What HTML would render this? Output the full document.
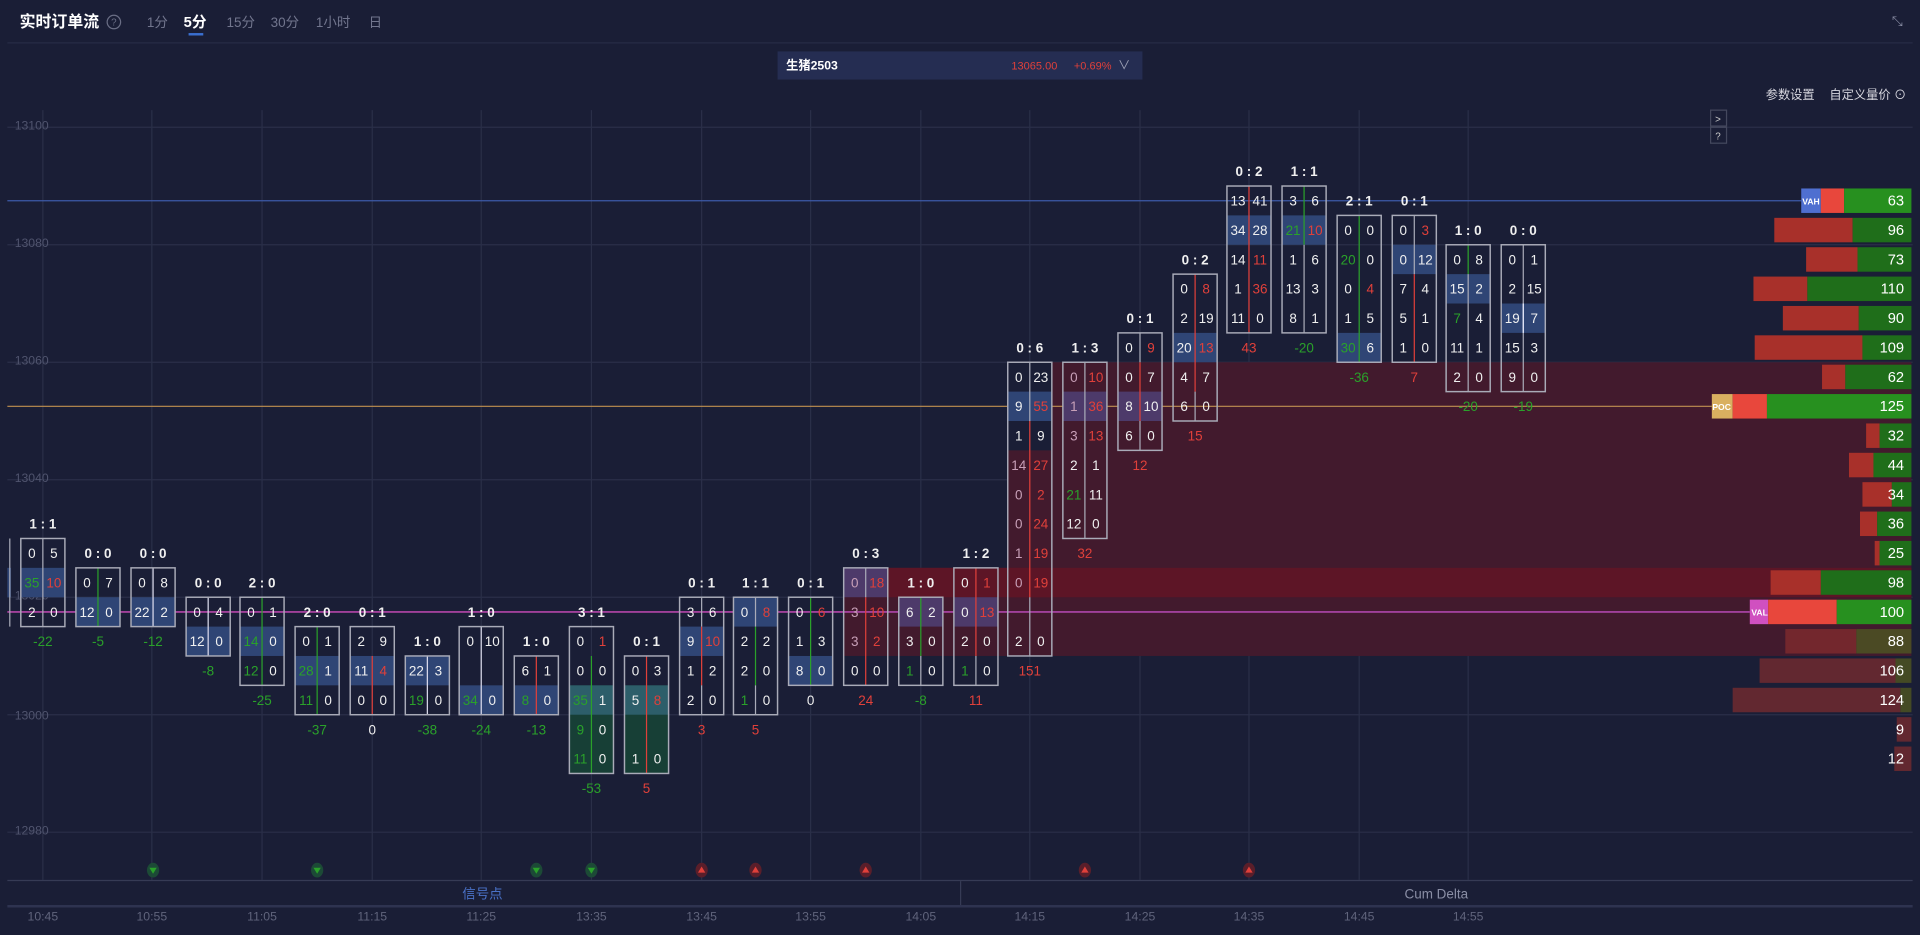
<!DOCTYPE html>
<html><head><meta charset="utf-8"><style>
html,body{margin:0;padding:0;background:#1a1e36;overflow:hidden}
svg{display:block}
text{font-family:"Liberation Sans","Noto Sans CJK SC",sans-serif}
.c text{font-size:11px;text-anchor:middle}
.w{fill:#f0f0f0}.g{fill:#2aa12a}.r{fill:#e0403a}.p{fill:#c8a0b8}
.rt{font-weight:bold;fill:#f0f0f0;font-size:11px}
.bx{fill:none;stroke:#a9abb8;stroke-width:1.2}
.hb{fill:#2f4575}.hp{fill:#4d3a6a}
.vn{font-size:12px;fill:#fff;text-anchor:end}
.ax{font-size:10px;fill:#50546e}
.tm{font-size:10px;fill:#60647c;text-anchor:middle}
</style></head><body>
<svg width="1920" height="935" viewBox="0 0 1568 764" preserveAspectRatio="none" xmlns="http://www.w3.org/2000/svg">
<rect width="1568" height="764" fill="#1a1e36"/>
<!-- header -->
<text x="16" y="22" font-size="13" font-weight="bold" fill="#fff">实时订单流</text>
<circle cx="93" cy="18" r="5.5" fill="none" stroke="#6a6e85"/><text x="93" y="21" font-size="8" fill="#6a6e85" text-anchor="middle">?</text>
<g font-size="11" fill="#72768e"><text x="120" y="22">1分</text><text x="185" y="22">15分</text><text x="221" y="22">30分</text><text x="258" y="22">1小时</text><text x="301" y="22">日</text></g>
<text x="150" y="22" font-size="12" font-weight="bold" fill="#fff">5分</text>
<rect x="154" y="27" width="12" height="2" fill="#3a6fd0"/>
<text x="1545" y="21" font-size="11" fill="#8a8ea5">⤡</text>
<line x1="6" y1="35" x2="1562" y2="35" stroke="#262b45"/>
<rect x="635" y="42" width="298" height="23" fill="#252d52"/>
<text x="642" y="57" font-size="10" font-weight="bold" fill="#fff">生猪2503</text>
<text x="826" y="57" font-size="9" fill="#e0403a">13065.00</text>
<text x="877" y="57" font-size="9" fill="#e0403a">+0.69%</text>
<text x="913" y="57" font-size="10" fill="#a0a4b8">∨</text>
<text x="1442" y="81" font-size="10" fill="#d8d8e0">参数设置</text>
<text x="1494" y="81" font-size="10" fill="#d8d8e0">自定义量价 ⊙</text>
<!-- grid -->
<g stroke="#2a2f48" stroke-width="1">
<line x1="6" y1="104" x2="1562" y2="104"/><line x1="6" y1="200" x2="1562" y2="200"/><line x1="6" y1="296" x2="1562" y2="296"/><line x1="6" y1="392" x2="1562" y2="392"/><line x1="6" y1="488" x2="1562" y2="488"/><line x1="6" y1="584" x2="1562" y2="584"/><line x1="6" y1="680" x2="1562" y2="680"/>
<line x1="35" y1="90" x2="35" y2="719"/><line x1="124" y1="90" x2="124" y2="719"/><line x1="214" y1="90" x2="214" y2="719"/><line x1="304" y1="90" x2="304" y2="719"/><line x1="393" y1="90" x2="393" y2="719"/><line x1="483" y1="90" x2="483" y2="719"/><line x1="573" y1="90" x2="573" y2="719"/><line x1="662" y1="90" x2="662" y2="719"/><line x1="752" y1="90" x2="752" y2="719"/><line x1="841" y1="90" x2="841" y2="719"/><line x1="931" y1="90" x2="931" y2="719"/><line x1="1020" y1="90" x2="1020" y2="719"/><line x1="1110" y1="90" x2="1110" y2="719"/><line x1="1199" y1="90" x2="1199" y2="719"/>
</g>
<g class="ax"><text x="12" y="106">13100</text><text x="12" y="202">13080</text><text x="12" y="298">13060</text><text x="12" y="394">13040</text><text x="12" y="490">13020</text><text x="12" y="588">13000</text><text x="12" y="682">12980</text></g>
<rect x="1397" y="90" width="13" height="13" fill="#1a1e36" stroke="#44485e"/><text x="1403" y="100" font-size="8" fill="#ccc" text-anchor="middle">&gt;</text>
<rect x="1397" y="104" width="13" height="13" fill="#1a1e36" stroke="#44485e"/><text x="1403" y="114" font-size="8" fill="#ccc" text-anchor="middle">?</text>
<!-- zones -->
<rect x="859" y="296" width="702" height="240" fill="#421a2d"/>
<rect x="823" y="368" width="36" height="168" fill="#421a2d"/>
<rect x="689" y="464" width="134" height="72" fill="#421a2d"/>
<rect x="725" y="464" width="836" height="24" fill="#5d1526"/>
<!-- lines -->
<line x1="6" y1="164" x2="1471" y2="164" stroke="#3d5aa8"/>
<line x1="6" y1="332" x2="1398" y2="332" stroke="#c09050"/>
<line x1="6" y1="500" x2="1429" y2="500" stroke="#a0409a" stroke-width="1.5"/>
<rect x="6" y="464" width="3" height="24" fill="#2f4575"/><line x1="8" y1="440" x2="8" y2="512" stroke="#a9abb8"/>
<!-- candles -->
<g class="c">
<g transform="translate(35,0)"><rect class="hb" x="-18" y="464" width="36" height="24"/><line x1="0" y1="440" x2="0" y2="512" stroke="#a9abb8"/><rect class="bx" x="-18" y="440" width="36" height="72"/><text class="rt" y="432">1 : 1</text>
<text x="-9" y="456" class="w">0</text><text x="9" y="456" class="w">5</text><text x="-9" y="480" class="g">35</text><text x="9" y="480" class="r">10</text><text x="-9" y="504" class="w">2</text><text x="9" y="504" class="w">0</text><text y="528" class="g">-22</text></g>
<g transform="translate(80,0)"><rect class="hb" x="-18" y="488" width="36" height="24"/><line x1="0" y1="464" x2="0" y2="512" stroke="#2aa12a"/><rect class="bx" x="-18" y="464" width="36" height="48"/><text class="rt" y="456">0 : 0</text>
<text x="-9" y="480" class="w">0</text><text x="9" y="480" class="w">7</text><text x="-9" y="504" class="w">12</text><text x="9" y="504" class="w">0</text><text y="528" class="g">-5</text></g>
<g transform="translate(125,0)"><rect class="hb" x="-18" y="488" width="36" height="24"/><line x1="0" y1="464" x2="0" y2="512" stroke="#dde"/><rect class="bx" x="-18" y="464" width="36" height="48"/><text class="rt" y="456">0 : 0</text>
<text x="-9" y="480" class="w">0</text><text x="9" y="480" class="w">8</text><text x="-9" y="504" class="w">22</text><text x="9" y="504" class="w">2</text><text y="528" class="g">-12</text></g>
<g transform="translate(170,0)"><rect class="hb" x="-18" y="512" width="36" height="24"/><line x1="0" y1="488" x2="0" y2="536" stroke="#dde"/><rect class="bx" x="-18" y="488" width="36" height="48"/><text class="rt" y="480">0 : 0</text>
<text x="-9" y="504" class="w">0</text><text x="9" y="504" class="w">4</text><text x="-9" y="528" class="w">12</text><text x="9" y="528" class="w">0</text><text y="552" class="g">-8</text></g>
<g transform="translate(214,0)"><rect class="hb" x="-18" y="512" width="36" height="24"/><line x1="0" y1="488" x2="0" y2="560" stroke="#2aa12a"/><rect class="bx" x="-18" y="488" width="36" height="72"/><text class="rt" y="480">2 : 0</text>
<text x="-9" y="504" class="w">0</text><text x="9" y="504" class="w">1</text><text x="-9" y="528" class="g">14</text><text x="9" y="528" class="w">0</text><text x="-9" y="552" class="g">12</text><text x="9" y="552" class="w">0</text><text y="576" class="g">-25</text></g>
<g transform="translate(259,0)"><rect class="hb" x="-18" y="536" width="36" height="24"/><line x1="0" y1="512" x2="0" y2="584" stroke="#2aa12a"/><rect class="bx" x="-18" y="512" width="36" height="72"/><text class="rt" y="504">2 : 0</text>
<text x="-9" y="528" class="w">0</text><text x="9" y="528" class="w">1</text><text x="-9" y="552" class="g">28</text><text x="9" y="552" class="w">1</text><text x="-9" y="576" class="g">11</text><text x="9" y="576" class="w">0</text><text y="600" class="g">-37</text></g>
<g transform="translate(304,0)"><rect class="hb" x="-18" y="536" width="36" height="24"/><line x1="0" y1="536" x2="0" y2="584" stroke="#e0403a"/><rect class="bx" x="-18" y="512" width="36" height="72"/><text class="rt" y="504">0 : 1</text>
<text x="-9" y="528" class="w">2</text><text x="9" y="528" class="w">9</text><text x="-9" y="552" class="w">11</text><text x="9" y="552" class="r">4</text><text x="-9" y="576" class="w">0</text><text x="9" y="576" class="w">0</text><text y="600" class="w">0</text></g>
<g transform="translate(349,0)"><rect class="hb" x="-18" y="536" width="36" height="24"/><line x1="0" y1="536" x2="0" y2="584" stroke="#dde"/><rect class="bx" x="-18" y="536" width="36" height="48"/><text class="rt" y="528">1 : 0</text>
<text x="-9" y="552" class="w">22</text><text x="9" y="552" class="w">3</text><text x="-9" y="576" class="g">19</text><text x="9" y="576" class="w">0</text><text y="600" class="g">-38</text></g>
<g transform="translate(393,0)"><rect class="hb" x="-18" y="560" width="36" height="24"/><line x1="0" y1="512" x2="0" y2="584" stroke="#dde"/><rect class="bx" x="-18" y="512" width="36" height="72"/><text class="rt" y="504">1 : 0</text>
<text x="-9" y="528" class="w">0</text><text x="9" y="528" class="w">10</text><text x="-9" y="576" class="g">34</text><text x="9" y="576" class="w">0</text><text y="600" class="g">-24</text></g>
<g transform="translate(438,0)"><rect class="hb" x="-18" y="560" width="36" height="24"/><line x1="0" y1="536" x2="0" y2="584" stroke="#e0403a"/><rect class="bx" x="-18" y="536" width="36" height="48"/><text class="rt" y="528">1 : 0</text>
<text x="-9" y="552" class="w">6</text><text x="9" y="552" class="w">1</text><text x="-9" y="576" class="g">8</text><text x="9" y="576" class="w">0</text><text y="600" class="g">-13</text></g>
<g transform="translate(483,0)"><rect x="-18" y="560" width="36" height="72" fill="#173f36"/><rect x="-18" y="560" width="36" height="24" fill="#2d5e6a"/><line x1="0" y1="536" x2="0" y2="632" stroke="#2aa12a"/><rect class="bx" x="-18" y="512" width="36" height="120"/><text class="rt" y="504">3 : 1</text>
<text x="-9" y="528" class="w">0</text><text x="9" y="528" class="r">1</text><text x="-9" y="552" class="w">0</text><text x="9" y="552" class="w">0</text><text x="-9" y="576" class="g">35</text><text x="9" y="576" class="w">1</text><text x="-9" y="600" class="g">9</text><text x="9" y="600" class="w">0</text><text x="-9" y="624" class="g">11</text><text x="9" y="624" class="w">0</text><text y="648" class="g">-53</text></g>
<g transform="translate(528,0)"><rect x="-18" y="560" width="36" height="72" fill="#173f36"/><rect x="-18" y="560" width="36" height="24" fill="#2d5e6a"/><line x1="0" y1="536" x2="0" y2="632" stroke="#e0403a"/><rect class="bx" x="-18" y="536" width="36" height="96"/><text class="rt" y="528">0 : 1</text>
<text x="-9" y="552" class="w">0</text><text x="9" y="552" class="w">3</text><text x="-9" y="576" class="w">5</text><text x="9" y="576" class="r">8</text><text x="-9" y="624" class="w">1</text><text x="9" y="624" class="w">0</text><text y="648" class="r">5</text></g>
<g transform="translate(573,0)"><rect class="hb" x="-18" y="512" width="36" height="24"/><line x1="0" y1="512" x2="0" y2="560" stroke="#e0403a"/><line x1="0" y1="488" x2="0" y2="512" stroke="#a9abb8"/><line x1="0" y1="560" x2="0" y2="584" stroke="#a9abb8"/><rect class="bx" x="-18" y="488" width="36" height="96"/><text class="rt" y="480">0 : 1</text>
<text x="-9" y="504" class="w">3</text><text x="9" y="504" class="w">6</text><text x="-9" y="528" class="w">9</text><text x="9" y="528" class="r">10</text><text x="-9" y="552" class="w">1</text><text x="9" y="552" class="w">2</text><text x="-9" y="576" class="w">2</text><text x="9" y="576" class="w">0</text><text y="600" class="r">3</text></g>
<g transform="translate(617,0)"><rect class="hb" x="-18" y="488" width="36" height="24"/><line x1="0" y1="512" x2="0" y2="560" stroke="#2aa12a"/><line x1="0" y1="488" x2="0" y2="512" stroke="#a9abb8"/><line x1="0" y1="560" x2="0" y2="584" stroke="#a9abb8"/><rect class="bx" x="-18" y="488" width="36" height="96"/><text class="rt" y="480">1 : 1</text>
<text x="-9" y="504" class="w">0</text><text x="9" y="504" class="r">8</text><text x="-9" y="528" class="w">2</text><text x="9" y="528" class="w">2</text><text x="-9" y="552" class="w">2</text><text x="9" y="552" class="w">0</text><text x="-9" y="576" class="g">1</text><text x="9" y="576" class="w">0</text><text y="600" class="r">5</text></g>
<g transform="translate(662,0)"><rect class="hb" x="-18" y="536" width="36" height="24"/><line x1="0" y1="488" x2="0" y2="560" stroke="#2aa12a"/><rect class="bx" x="-18" y="488" width="36" height="72"/><text class="rt" y="480">0 : 1</text>
<text x="-9" y="504" class="w">0</text><text x="9" y="504" class="r">6</text><text x="-9" y="528" class="w">1</text><text x="9" y="528" class="w">3</text><text x="-9" y="552" class="w">8</text><text x="9" y="552" class="w">0</text><text y="576" class="w">0</text></g>
<g transform="translate(707,0)"><rect class="hp" x="-18" y="464" width="36" height="24"/><line x1="0" y1="488" x2="0" y2="560" stroke="#e0403a"/><line x1="0" y1="464" x2="0" y2="488" stroke="#a9abb8"/><rect class="bx" x="-18" y="464" width="36" height="96"/><text class="rt" y="456">0 : 3</text>
<text x="-9" y="480" class="p">0</text><text x="9" y="480" class="r">18</text><text x="-9" y="504" class="p">3</text><text x="9" y="504" class="r">10</text><text x="-9" y="528" class="p">3</text><text x="9" y="528" class="r">2</text><text x="-9" y="552" class="w">0</text><text x="9" y="552" class="w">0</text><text y="576" class="r">24</text></g>
<g transform="translate(752,0)"><rect class="hp" x="-18" y="488" width="36" height="24"/><line x1="0" y1="488" x2="0" y2="536" stroke="#2aa12a"/><line x1="0" y1="536" x2="0" y2="560" stroke="#a9abb8"/><rect class="bx" x="-18" y="488" width="36" height="72"/><text class="rt" y="480">1 : 0</text>
<text x="-9" y="504" class="w">6</text><text x="9" y="504" class="w">2</text><text x="-9" y="528" class="w">3</text><text x="9" y="528" class="w">0</text><text x="-9" y="552" class="g">1</text><text x="9" y="552" class="w">0</text><text y="576" class="g">-8</text></g>
<g transform="translate(797,0)"><rect class="hp" x="-18" y="488" width="36" height="24"/><line x1="0" y1="464" x2="0" y2="536" stroke="#e0403a"/><line x1="0" y1="536" x2="0" y2="560" stroke="#a9abb8"/><rect class="bx" x="-18" y="464" width="36" height="96"/><text class="rt" y="456">1 : 2</text>
<text x="-9" y="480" class="w">0</text><text x="9" y="480" class="r">1</text><text x="-9" y="504" class="w">0</text><text x="9" y="504" class="r">13</text><text x="-9" y="528" class="w">2</text><text x="9" y="528" class="w">0</text><text x="-9" y="552" class="g">1</text><text x="9" y="552" class="w">0</text><text y="576" class="r">11</text></g>
<g transform="translate(841,0)"><rect class="hb" x="-18" y="320" width="36" height="24"/><rect x="-18" y="464" width="36" height="24" fill="#5d1526"/><line x1="0" y1="344" x2="0" y2="488" stroke="#e0403a"/><line x1="0" y1="296" x2="0" y2="344" stroke="#a9abb8"/><line x1="0" y1="488" x2="0" y2="536" stroke="#a9abb8"/><rect class="bx" x="-18" y="296" width="36" height="240"/><text class="rt" y="288">0 : 6</text>
<text x="-9" y="312" class="w">0</text><text x="9" y="312" class="w">23</text><text x="-9" y="336" class="w">9</text><text x="9" y="336" class="r">55</text><text x="-9" y="360" class="w">1</text><text x="9" y="360" class="w">9</text><text x="-9" y="384" class="p">14</text><text x="9" y="384" class="r">27</text><text x="-9" y="408" class="p">0</text><text x="9" y="408" class="r">2</text><text x="-9" y="432" class="p">0</text><text x="9" y="432" class="r">24</text><text x="-9" y="456" class="p">1</text><text x="9" y="456" class="r">19</text><text x="-9" y="480" class="p">0</text><text x="9" y="480" class="r">19</text><text x="-9" y="528" class="w">2</text><text x="9" y="528" class="w">0</text><text y="552" class="r">151</text></g>
<g transform="translate(886,0)"><rect class="hp" x="-18" y="320" width="36" height="24"/><line x1="0" y1="296" x2="0" y2="440" stroke="#a9abb8"/><rect class="bx" x="-18" y="296" width="36" height="144"/><text class="rt" y="288">1 : 3</text>
<text x="-9" y="312" class="p">0</text><text x="9" y="312" class="r">10</text><text x="-9" y="336" class="p">1</text><text x="9" y="336" class="r">36</text><text x="-9" y="360" class="p">3</text><text x="9" y="360" class="r">13</text><text x="-9" y="384" class="w">2</text><text x="9" y="384" class="w">1</text><text x="-9" y="408" class="g">21</text><text x="9" y="408" class="w">11</text><text x="-9" y="432" class="w">12</text><text x="9" y="432" class="w">0</text><text y="456" class="r">32</text></g>
<g transform="translate(931,0)"><rect class="hp" x="-18" y="320" width="36" height="24"/><line x1="0" y1="296" x2="0" y2="344" stroke="#e0403a"/><line x1="0" y1="272" x2="0" y2="296" stroke="#a9abb8"/><line x1="0" y1="344" x2="0" y2="368" stroke="#a9abb8"/><rect class="bx" x="-18" y="272" width="36" height="96"/><text class="rt" y="264">0 : 1</text>
<text x="-9" y="288" class="w">0</text><text x="9" y="288" class="r">9</text><text x="-9" y="312" class="w">0</text><text x="9" y="312" class="w">7</text><text x="-9" y="336" class="w">8</text><text x="9" y="336" class="w">10</text><text x="-9" y="360" class="w">6</text><text x="9" y="360" class="w">0</text><text y="384" class="r">12</text></g>
<g transform="translate(976,0)"><rect class="hb" x="-18" y="272" width="36" height="24"/><line x1="0" y1="224" x2="0" y2="320" stroke="#e0403a"/><line x1="0" y1="320" x2="0" y2="344" stroke="#a9abb8"/><rect class="bx" x="-18" y="224" width="36" height="120"/><text class="rt" y="216">0 : 2</text>
<text x="-9" y="240" class="w">0</text><text x="9" y="240" class="r">8</text><text x="-9" y="264" class="w">2</text><text x="9" y="264" class="w">19</text><text x="-9" y="288" class="w">20</text><text x="9" y="288" class="r">13</text><text x="-9" y="312" class="w">4</text><text x="9" y="312" class="w">7</text><text x="-9" y="336" class="w">6</text><text x="9" y="336" class="w">0</text><text y="360" class="r">15</text></g>
<g transform="translate(1020,0)"><rect class="hb" x="-18" y="176" width="36" height="24"/><line x1="0" y1="152" x2="0" y2="272" stroke="#e0403a"/><rect class="bx" x="-18" y="152" width="36" height="120"/><text class="rt" y="144">0 : 2</text>
<text x="-9" y="168" class="w">13</text><text x="9" y="168" class="w">41</text><text x="-9" y="192" class="w">34</text><text x="9" y="192" class="w">28</text><text x="-9" y="216" class="w">14</text><text x="9" y="216" class="r">11</text><text x="-9" y="240" class="w">1</text><text x="9" y="240" class="r">36</text><text x="-9" y="264" class="w">11</text><text x="9" y="264" class="w">0</text><text y="288" class="r">43</text></g>
<g transform="translate(1065,0)"><rect class="hb" x="-18" y="176" width="36" height="24"/><line x1="0" y1="152" x2="0" y2="200" stroke="#2aa12a"/><line x1="0" y1="200" x2="0" y2="272" stroke="#a9abb8"/><rect class="bx" x="-18" y="152" width="36" height="120"/><text class="rt" y="144">1 : 1</text>
<text x="-9" y="168" class="w">3</text><text x="9" y="168" class="w">6</text><text x="-9" y="192" class="g">21</text><text x="9" y="192" class="r">10</text><text x="-9" y="216" class="w">1</text><text x="9" y="216" class="w">6</text><text x="-9" y="240" class="w">13</text><text x="9" y="240" class="w">3</text><text x="-9" y="264" class="w">8</text><text x="9" y="264" class="w">1</text><text y="288" class="g">-20</text></g>
<g transform="translate(1110,0)"><rect class="hb" x="-18" y="272" width="36" height="24"/><line x1="0" y1="176" x2="0" y2="296" stroke="#2aa12a"/><rect class="bx" x="-18" y="176" width="36" height="120"/><text class="rt" y="168">2 : 1</text>
<text x="-9" y="192" class="w">0</text><text x="9" y="192" class="w">0</text><text x="-9" y="216" class="g">20</text><text x="9" y="216" class="w">0</text><text x="-9" y="240" class="w">0</text><text x="9" y="240" class="r">4</text><text x="-9" y="264" class="w">1</text><text x="9" y="264" class="w">5</text><text x="-9" y="288" class="g">30</text><text x="9" y="288" class="w">6</text><text y="312" class="g">-36</text></g>
<g transform="translate(1155,0)"><rect class="hb" x="-18" y="200" width="36" height="24"/><line x1="0" y1="224" x2="0" y2="296" stroke="#e0403a"/><line x1="0" y1="176" x2="0" y2="224" stroke="#a9abb8"/><rect class="bx" x="-18" y="176" width="36" height="120"/><text class="rt" y="168">0 : 1</text>
<text x="-9" y="192" class="w">0</text><text x="9" y="192" class="r">3</text><text x="-9" y="216" class="w">0</text><text x="9" y="216" class="w">12</text><text x="-9" y="240" class="w">7</text><text x="9" y="240" class="w">4</text><text x="-9" y="264" class="w">5</text><text x="9" y="264" class="w">1</text><text x="-9" y="288" class="w">1</text><text x="9" y="288" class="w">0</text><text y="312" class="r">7</text></g>
<g transform="translate(1199,0)"><rect class="hb" x="-18" y="224" width="36" height="24"/><line x1="0" y1="200" x2="0" y2="224" stroke="#2aa12a"/><line x1="0" y1="224" x2="0" y2="320" stroke="#a9abb8"/><rect class="bx" x="-18" y="200" width="36" height="120"/><text class="rt" y="192">1 : 0</text>
<text x="-9" y="216" class="w">0</text><text x="9" y="216" class="w">8</text><text x="-9" y="240" class="w">15</text><text x="9" y="240" class="w">2</text><text x="-9" y="264" class="g">7</text><text x="9" y="264" class="w">4</text><text x="-9" y="288" class="w">11</text><text x="9" y="288" class="w">1</text><text x="-9" y="312" class="w">2</text><text x="9" y="312" class="w">0</text><text y="336" class="g">-20</text></g>
<g transform="translate(1244,0)"><rect class="hb" x="-18" y="248" width="36" height="24"/><line x1="0" y1="200" x2="0" y2="320" stroke="#a9abb8"/><line x1="0" y1="248" x2="0" y2="272" stroke="#e8ecff"/><rect class="bx" x="-18" y="200" width="36" height="120"/><text class="rt" y="192">0 : 0</text>
<text x="-9" y="216" class="w">0</text><text x="9" y="216" class="w">1</text><text x="-9" y="240" class="w">2</text><text x="9" y="240" class="w">15</text><text x="-9" y="264" class="w">19</text><text x="9" y="264" class="w">7</text><text x="-9" y="288" class="w">15</text><text x="9" y="288" class="w">3</text><text x="-9" y="312" class="w">9</text><text x="9" y="312" class="w">0</text><text y="336" class="g">-19</text></g>
</g>
<!-- volume profile -->
<g>
<rect x="1471" y="154" width="16" height="20" fill="#4f6fd0"/><rect x="1487" y="154" width="19" height="20" fill="#e8473c"/><rect x="1506" y="154" width="55" height="20" fill="#27901f"/>
<rect x="1449" y="178" width="64" height="20" fill="#a8302a"/><rect x="1513" y="178" width="48" height="20" fill="#1f6e1a"/>
<rect x="1475" y="202" width="42" height="20" fill="#a8302a"/><rect x="1517" y="202" width="44" height="20" fill="#1f6e1a"/>
<rect x="1432" y="226" width="44" height="20" fill="#a8302a"/><rect x="1476" y="226" width="85" height="20" fill="#1f6e1a"/>
<rect x="1456" y="250" width="62" height="20" fill="#a8302a"/><rect x="1518" y="250" width="43" height="20" fill="#1f6e1a"/>
<rect x="1433" y="274" width="88" height="20" fill="#a8302a"/><rect x="1521" y="274" width="40" height="20" fill="#1f6e1a"/>
<rect x="1488" y="298" width="19" height="20" fill="#a8302a"/><rect x="1507" y="298" width="54" height="20" fill="#1f6e1a"/>
<rect x="1398" y="322" width="17" height="20" fill="#d9b060"/><rect x="1415" y="322" width="28" height="20" fill="#e8473c"/><rect x="1443" y="322" width="118" height="20" fill="#27901f"/>
<rect x="1524" y="346" width="11" height="20" fill="#a8302a"/><rect x="1535" y="346" width="26" height="20" fill="#1f6e1a"/>
<rect x="1510" y="370" width="20" height="20" fill="#a8302a"/><rect x="1530" y="370" width="31" height="20" fill="#1f6e1a"/>
<rect x="1521" y="394" width="24" height="20" fill="#a8302a"/><rect x="1545" y="394" width="16" height="20" fill="#1f6e1a"/>
<rect x="1519" y="418" width="14" height="20" fill="#a8302a"/><rect x="1533" y="418" width="28" height="20" fill="#1f6e1a"/>
<rect x="1531" y="442" width="4" height="20" fill="#a8302a"/><rect x="1535" y="442" width="26" height="20" fill="#1f6e1a"/>
<rect x="1446" y="466" width="41" height="20" fill="#a8302a"/><rect x="1487" y="466" width="74" height="20" fill="#1f6e1a"/>
<rect x="1429" y="490" width="15" height="20" fill="#d050c0"/><rect x="1444" y="490" width="56" height="20" fill="#e8473c"/><rect x="1500" y="490" width="61" height="20" fill="#27901f"/>
<rect x="1458" y="514" width="58" height="20" fill="#73272d"/><rect x="1516" y="514" width="45" height="20" fill="#4b4a24"/>
<rect x="1437" y="538" width="111" height="20" fill="#622830"/><rect x="1548" y="538" width="13" height="20" fill="#444a24"/>
<rect x="1415" y="562" width="137" height="20" fill="#622830"/><rect x="1552" y="562" width="9" height="20" fill="#444a24"/>
<rect x="1549" y="586" width="12" height="20" fill="#622830"/>
<rect x="1547" y="610" width="14" height="20" fill="#622830"/>
<g font-size="7" font-weight="bold" fill="#fff" text-anchor="middle"><text x="1479" y="167">VAH</text><text x="1406" y="335">POC</text><text x="1437" y="503">VAL</text></g>
<text class="vn" x="1555" y="168">63</text><text class="vn" x="1555" y="192">96</text><text class="vn" x="1555" y="216">73</text><text class="vn" x="1555" y="240">110</text><text class="vn" x="1555" y="264">90</text><text class="vn" x="1555" y="288">109</text><text class="vn" x="1555" y="312">62</text><text class="vn" x="1555" y="336">125</text><text class="vn" x="1555" y="360">32</text><text class="vn" x="1555" y="384">44</text><text class="vn" x="1555" y="408">34</text><text class="vn" x="1555" y="432">36</text><text class="vn" x="1555" y="456">25</text><text class="vn" x="1555" y="480">98</text><text class="vn" x="1555" y="504">100</text><text class="vn" x="1555" y="528">88</text><text class="vn" x="1555" y="552">106</text><text class="vn" x="1555" y="576">124</text><text class="vn" x="1555" y="600">9</text><text class="vn" x="1555" y="624">12</text>
</g>
<!-- signals -->
<g>
<g transform="translate(125,711)"><ellipse rx="5" ry="6" fill="#1c4a36"/><path d="M-3,-2 L3,-2 L0,3Z" fill="#2aa12a"/></g>
<g transform="translate(259,711)"><ellipse rx="5" ry="6" fill="#1c4a36"/><path d="M-3,-2 L3,-2 L0,3Z" fill="#2aa12a"/></g>
<g transform="translate(438,711)"><ellipse rx="5" ry="6" fill="#1c4a36"/><path d="M-3,-2 L3,-2 L0,3Z" fill="#2aa12a"/></g>
<g transform="translate(483,711)"><ellipse rx="5" ry="6" fill="#1c4a36"/><path d="M-3,-2 L3,-2 L0,3Z" fill="#2aa12a"/></g>
<g transform="translate(573,711)"><ellipse rx="5" ry="6" fill="#5a1e2a"/><path d="M-3,2 L3,2 L0,-3Z" fill="#e0403a"/></g>
<g transform="translate(617,711)"><ellipse rx="5" ry="6" fill="#5a1e2a"/><path d="M-3,2 L3,2 L0,-3Z" fill="#e0403a"/></g>
<g transform="translate(707,711)"><ellipse rx="5" ry="6" fill="#5a1e2a"/><path d="M-3,2 L3,2 L0,-3Z" fill="#e0403a"/></g>
<g transform="translate(886,711)"><ellipse rx="5" ry="6" fill="#5a1e2a"/><path d="M-3,2 L3,2 L0,-3Z" fill="#e0403a"/></g>
<g transform="translate(1020,711)"><ellipse rx="5" ry="6" fill="#5a1e2a"/><path d="M-3,2 L3,2 L0,-3Z" fill="#e0403a"/></g>
</g>
<!-- bottom panel -->
<line x1="6" y1="719.5" x2="1562" y2="719.5" stroke="#363b55"/>
<line x1="784.5" y1="720" x2="784.5" y2="740" stroke="#363b55"/>
<line x1="6" y1="740.5" x2="1562" y2="740.5" stroke="#2e3350" stroke-width="2"/>
<text x="394" y="734" font-size="11" fill="#4a72c8" text-anchor="middle">信号点</text>
<text x="1173" y="734" font-size="11" fill="#8a8ea5" text-anchor="middle">Cum Delta</text>
<g class="tm"><text x="35" y="752">10:45</text><text x="124" y="752">10:55</text><text x="214" y="752">11:05</text><text x="304" y="752">11:15</text><text x="393" y="752">11:25</text><text x="483" y="752">13:35</text><text x="573" y="752">13:45</text><text x="662" y="752">13:55</text><text x="752" y="752">14:05</text><text x="841" y="752">14:15</text><text x="931" y="752">14:25</text><text x="1020" y="752">14:35</text><text x="1110" y="752">14:45</text><text x="1199" y="752">14:55</text></g>
</svg>
</body></html>
